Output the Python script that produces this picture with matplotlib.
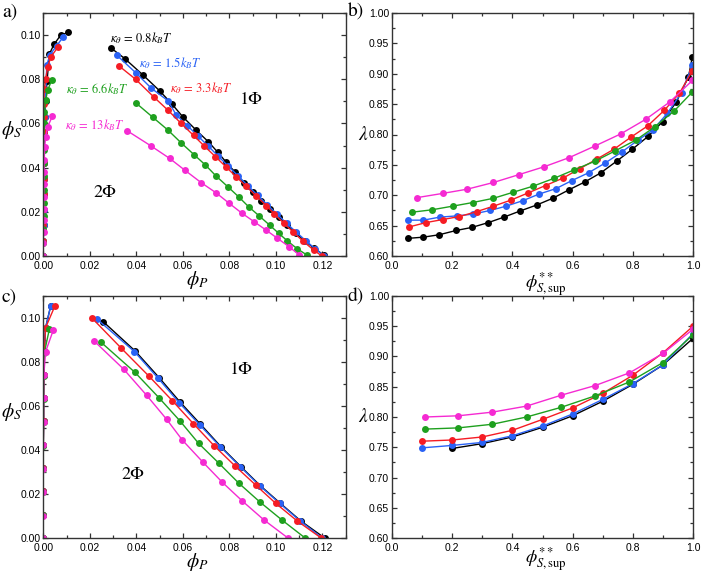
import matplotlib
matplotlib.use("Agg")
import matplotlib.pyplot as plt
from matplotlib.ticker import MultipleLocator

plt.rcParams['font.family'] = ['Liberation Sans', 'DejaVu Sans']
plt.rcParams['mathtext.fontset'] = 'stix'

colors = ['#000000', '#2a62f5', '#f51c24', '#1ea01e', '#f52ad2']
kappa_labels = [r'$\kappa_\theta\,=\,0.8k_BT$', r'$\kappa_\theta\,=\,1.5k_BT$',
                r'$\kappa_\theta\,=\,3.3k_BT$', r'$\kappa_\theta\,=\,6.6k_BT$',
                r'$\kappa_\theta\,=\,13k_BT$']

# ---- panel a : phase diagram (left branch near phi_P = 0, right branch) ----
a_left_x = [
    [0, 0, 0.0001, 0.0001, 0.0001, 0.0002, 0.0002, 0.0003, 0.0004, 0.0006, 0.0010, 0.0016, 0.0026, 0.0046, 0.0075, 0.0107],
    [0, 0, 0.0001, 0.0001, 0.0001, 0.0002, 0.0002, 0.0003, 0.0004, 0.0006, 0.0009, 0.0015, 0.0029, 0.0057, 0.0086],
    [0, 0, 0, 0, 0.0001, 0.0001, 0.0001, 0.0001, 0.0002, 0.0002, 0.0003, 0.0004, 0.0010, 0.0019, 0.0033, 0.0064],
    [0, 0, 0, 0.0001, 0.0001, 0.0001, 0.0001, 0.0002, 0.0002, 0.0003, 0.0003, 0.0004, 0.0010, 0.0019, 0.0036],
    [0, 0, 0.0001, 0.0001, 0.0001, 0.0002, 0.0002, 0.0003, 0.0004, 0.0006, 0.0010, 0.0019, 0.0039],
]
a_left_y = [
    [0, 0.007, 0.014, 0.021, 0.028, 0.035, 0.042, 0.049, 0.056, 0.063, 0.070, 0.079, 0.0914, 0.0958, 0.1000, 0.1012],
    [0, 0.007, 0.014, 0.021, 0.028, 0.035, 0.042, 0.049, 0.056, 0.063, 0.070, 0.0865, 0.0912, 0.0951, 0.0992],
    [0, 0.007, 0.014, 0.021, 0.028, 0.035, 0.042, 0.049, 0.056, 0.063, 0.069, 0.0754, 0.0800, 0.0857, 0.0902, 0.0947],
    [0, 0.006, 0.012, 0.018, 0.024, 0.030, 0.036, 0.042, 0.048, 0.054, 0.060, 0.0652, 0.0705, 0.0751, 0.0796],
    [0, 0.0057, 0.0110, 0.0163, 0.0213, 0.0268, 0.0324, 0.0379, 0.0434, 0.0492, 0.0540, 0.0585, 0.0633],
]
a_right_x = [
    [0.0293, 0.0350, 0.0429, 0.0500, 0.0553, 0.0600, 0.0657, 0.0710, 0.0750, 0.0787, 0.0826, 0.0865, 0.0900, 0.0938, 0.0975, 0.1015, 0.1050, 0.1086, 0.1125, 0.1165, 0.1205],
    [0.0315, 0.0397, 0.0465, 0.0536, 0.0572, 0.0620, 0.0665, 0.0710, 0.0752, 0.0795, 0.0838, 0.0880, 0.0922, 0.0963, 0.1005, 0.1046, 0.1088, 0.1130, 0.1170, 0.1208],
    [0.0326, 0.0397, 0.0475, 0.0536, 0.0593, 0.0646, 0.0690, 0.0740, 0.0787, 0.0830, 0.0873, 0.0915, 0.0959, 0.0994, 0.1033, 0.1073, 0.1116, 0.1165, 0.1198],
    [0.0397, 0.0472, 0.0536, 0.0593, 0.0650, 0.0697, 0.0743, 0.0793, 0.0840, 0.0883, 0.0929, 0.0973, 0.1012, 0.1050, 0.1093, 0.1136],
    [0.0362, 0.0462, 0.0543, 0.0608, 0.0679, 0.0743, 0.0800, 0.0855, 0.0907, 0.0957, 0.1007, 0.1057, 0.1100],
]
a_right_y = [
    [0.0940, 0.0894, 0.0819, 0.0748, 0.0688, 0.0630, 0.0570, 0.0517, 0.0470, 0.0424, 0.0378, 0.0329, 0.0289, 0.0249, 0.0212, 0.0175, 0.0140, 0.0103, 0.0068, 0.0035, 0.0005],
    [0.0910, 0.0830, 0.0759, 0.0703, 0.0638, 0.0590, 0.0543, 0.0497, 0.0452, 0.0407, 0.0362, 0.0318, 0.0274, 0.0232, 0.0190, 0.0148, 0.0108, 0.0068, 0.0032, 0.0000],
    [0.0860, 0.0800, 0.0720, 0.0660, 0.0600, 0.0546, 0.0500, 0.0450, 0.0402, 0.0358, 0.0315, 0.0272, 0.0228, 0.0190, 0.0150, 0.0110, 0.0068, 0.0025, 0.0000],
    [0.0694, 0.0627, 0.0570, 0.0512, 0.0457, 0.0412, 0.0362, 0.0314, 0.0268, 0.0223, 0.0181, 0.0140, 0.0103, 0.0068, 0.0032, 0.0003],
    [0.0566, 0.0499, 0.0442, 0.0389, 0.0332, 0.0286, 0.0238, 0.0193, 0.0155, 0.0118, 0.0080, 0.0042, 0.0005],
]

# ---- panel b : lambda vs phi**_S,sup ----
b_x = [
    [0.052, 0.104, 0.157, 0.213, 0.265, 0.320, 0.372, 0.425, 0.481, 0.534, 0.588, 0.641, 0.694, 0.746, 0.799, 0.851, 0.899, 0.945, 0.985, 0.998],
    [0.052, 0.104, 0.159, 0.215, 0.270, 0.326, 0.379, 0.434, 0.489, 0.545, 0.597, 0.653, 0.708, 0.763, 0.818, 0.866, 0.915, 0.962, 0.998],
    [0.058, 0.113, 0.168, 0.224, 0.281, 0.337, 0.395, 0.453, 0.510, 0.567, 0.625, 0.682, 0.738, 0.795, 0.849, 0.905, 0.955, 0.998],
    [0.065, 0.132, 0.201, 0.268, 0.337, 0.403, 0.469, 0.539, 0.606, 0.674, 0.741, 0.811, 0.874, 0.938, 0.998],
    [0.082, 0.168, 0.250, 0.337, 0.422, 0.506, 0.589, 0.674, 0.760, 0.843, 0.924, 0.998],
]
b_y = [
    [0.629, 0.631, 0.635, 0.642, 0.647, 0.655, 0.664, 0.674, 0.684, 0.695, 0.709, 0.722, 0.737, 0.756, 0.776, 0.797, 0.821, 0.854, 0.895, 0.928],
    [0.659, 0.659, 0.664, 0.666, 0.669, 0.675, 0.682, 0.691, 0.702, 0.711, 0.724, 0.737, 0.753, 0.771, 0.791, 0.807, 0.835, 0.869, 0.914],
    [0.648, 0.655, 0.660, 0.665, 0.673, 0.682, 0.692, 0.704, 0.716, 0.728, 0.744, 0.760, 0.776, 0.796, 0.814, 0.840, 0.868, 0.905],
    [0.672, 0.676, 0.682, 0.688, 0.695, 0.705, 0.715, 0.728, 0.742, 0.756, 0.773, 0.791, 0.813, 0.839, 0.870],
    [0.696, 0.703, 0.710, 0.721, 0.734, 0.747, 0.762, 0.781, 0.801, 0.825, 0.854, 0.889],
]

# ---- panel c : second phase diagram ----
c_left_x = [
    [0, 0, 0, 0, 0, 0.0001, 0.0001, 0.0002, 0.0004, 0.0010, 0.0032],
    [0, 0, 0, 0, 0, 0.0001, 0.0001, 0.0002, 0.0004, 0.0010, 0.0032],
    [0, 0, 0, 0, 0, 0.0001, 0.0001, 0.0002, 0.0004, 0.0010, 0.0050],
    [0, 0, 0, 0, 0, 0.0001, 0.0001, 0.0002, 0.0004, 0.0026],
    [0, 0, 0, 0, 0, 0.0001, 0.0001, 0.0002, 0.0010, 0.0043],
]
c_left_y = [
    [0, 0.0106, 0.0212, 0.0318, 0.0424, 0.0530, 0.0636, 0.0742, 0.0848, 0.0956, 0.1056],
    [0, 0.0106, 0.0212, 0.0318, 0.0424, 0.0530, 0.0636, 0.0742, 0.0848, 0.0956, 0.1056],
    [0, 0.0106, 0.0212, 0.0318, 0.0424, 0.0530, 0.0636, 0.0742, 0.0848, 0.0956, 0.1055],
    [0, 0.0105, 0.0210, 0.0315, 0.0420, 0.0525, 0.0630, 0.0735, 0.0840, 0.0949],
    [0, 0.0101, 0.0208, 0.0314, 0.0423, 0.0529, 0.0635, 0.0740, 0.0847, 0.0945],
]
c_right_x = [
    [0.0258, 0.0395, 0.0498, 0.0588, 0.0676, 0.0764, 0.0850, 0.0933, 0.1019, 0.1108, 0.1210],
    [0.0232, 0.0392, 0.0494, 0.0584, 0.0672, 0.0761, 0.0847, 0.0930, 0.1016, 0.1105, 0.1200],
    [0.0210, 0.0336, 0.0454, 0.0555, 0.0645, 0.0734, 0.0823, 0.0913, 0.0999, 0.1090, 0.1195],
    [0.0248, 0.0394, 0.0497, 0.0587, 0.0668, 0.0755, 0.0841, 0.0930, 0.1026, 0.1126],
    [0.0219, 0.0346, 0.0444, 0.0530, 0.0598, 0.0687, 0.0770, 0.0856, 0.0949, 0.1052],
]
c_right_y = [
    [0.0983, 0.0850, 0.0729, 0.0618, 0.0517, 0.0415, 0.0324, 0.0238, 0.0158, 0.0077, 0.0],
    [0.0994, 0.0847, 0.0726, 0.0615, 0.0515, 0.0415, 0.0324, 0.0238, 0.0158, 0.0077, 0.0],
    [0.0999, 0.0862, 0.0736, 0.0624, 0.0520, 0.0420, 0.0329, 0.0241, 0.0158, 0.0079, 0.0],
    [0.0890, 0.0753, 0.0638, 0.0533, 0.0430, 0.0340, 0.0249, 0.0165, 0.0082, 0.0],
    [0.0895, 0.0767, 0.0649, 0.0540, 0.0445, 0.0344, 0.0253, 0.0168, 0.0082, 0.0],
]

# ---- panel d ----
d_x = [
    [0.2, 0.3, 0.4, 0.5, 0.6, 0.7, 0.8, 0.9, 1.0],
    [0.1, 0.2, 0.3, 0.4, 0.5, 0.6, 0.7, 0.8, 0.9, 1.0],
    [0.1, 0.2, 0.3, 0.4, 0.5, 0.6, 0.7, 0.8, 0.9, 1.0],
    [0.11, 0.22, 0.333, 0.447, 0.562, 0.675, 0.789, 0.90, 1.0],
    [0.11, 0.22, 0.333, 0.447, 0.562, 0.675, 0.789, 0.90, 1.0],
]
d_y = [
    [0.748, 0.756, 0.767, 0.783, 0.802, 0.826, 0.854, 0.886, 0.930],
    [0.749, 0.753, 0.758, 0.769, 0.785, 0.805, 0.829, 0.855, 0.886, 0.938],
    [0.760, 0.762, 0.767, 0.778, 0.796, 0.815, 0.839, 0.869, 0.906, 0.950],
    [0.780, 0.782, 0.788, 0.800, 0.816, 0.835, 0.858, 0.890, 0.936],
    [0.800, 0.802, 0.808, 0.818, 0.836, 0.852, 0.873, 0.905, 0.945],
]

W, H = 702, 575
fig = plt.figure(figsize=(W / 100, H / 100), dpi=100)


def box(l, t, r, b):
    return [l / W, 1 - b / H, (r - l) / W, (b - t) / H]


ax_a = fig.add_axes(box(43.3, 13, 345.6, 256))
ax_b = fig.add_axes(box(392, 13, 693, 256))
ax_c = fig.add_axes(box(43.3, 296, 345.6, 538))
ax_d = fig.add_axes(box(392, 296, 693, 538))

line_kw = dict(marker='o', ms=5, lw=1.0, mew=0)


def style(ax, xmaj, xmin, ymaj, ymin, xlim, ylim, fmt_x, fmt_y):
    ax.set_xlim(*xlim)
    ax.set_ylim(*ylim)
    ax.xaxis.set_major_locator(MultipleLocator(xmaj))
    ax.xaxis.set_minor_locator(MultipleLocator(xmin))
    ax.yaxis.set_major_locator(MultipleLocator(ymaj))
    ax.yaxis.set_minor_locator(MultipleLocator(ymin))
    ax.xaxis.set_major_formatter(plt.FormatStrFormatter(fmt_x))
    ax.yaxis.set_major_formatter(plt.FormatStrFormatter(fmt_y))
    ax.tick_params(which='both', direction='in', top=True, right=True,
                   labelsize=7.5, pad=2, color='#333333', width=0.9)
    ax.tick_params(axis='x', which='both', pad=3.5)
    ax.tick_params(which='major', length=3.5)
    ax.tick_params(which='minor', length=2)
    for s in ax.spines.values():
        s.set_color('#333333')
        s.set_linewidth(1.0)


def phase_panel(ax, lx, ly, rx, ry):
    for i in range(5):
        ax.plot(lx[i], ly[i], color=colors[i], **line_kw)
        ax.plot(rx[i], ry[i], color=colors[i], **line_kw)
    style(ax, 0.02, 0.01, 0.02, 0.01, (0, 0.13), (0, 0.11), '%.2f', '%.2f')
    ax.text(-0.105, 0.52, r'$\phi_S$', transform=ax.transAxes, fontsize=14,
            ha='center', va='center')
    ax.text(0.51, -0.1, r'$\phi_P$', transform=ax.transAxes, fontsize=14,
            ha='center', va='center')


def lam_panel(ax, xs, ys, ylab):
    for i in range(5):
        ax.plot(xs[i], ys[i], color=colors[i], **line_kw)
    style(ax, 0.2, 0.1, 0.05, 0.025, (0, 1.0), (0.6, 1.0), '%.1f', '%.2f')
    ax.text(-0.095, 0.50, r'$\lambda$', transform=ax.transAxes, fontsize=14,
            ha='center', va='center')
    ax.text(0.51, ylab, r'$\phi^{**}_{S,\mathrm{sup}}$', transform=ax.transAxes,
            fontsize=13, ha='center', va='top')


phase_panel(ax_a, a_left_x, a_left_y, a_right_x, a_right_y)
lam_panel(ax_b, b_x, b_y, -0.062)
phase_panel(ax_c, c_left_x, c_left_y, c_right_x, c_right_y)
lam_panel(ax_d, d_x, d_y, -0.035)

# annotations in panel a
label_pos = [(0.0286, 0.0986), (0.0410, 0.0873), (0.0544, 0.0760),
             (0.0096, 0.0756), (0.0093, 0.0593)]
for i, (px, py) in enumerate(label_pos):
    ax_a.text(px, py, kappa_labels[i], color=colors[i], fontsize=9,
              ha='left', va='center')

serif = ['STIXGeneral', 'DejaVu Serif']
ax_a.text(0.0896, 0.0706, '1Φ', fontsize=13, family=serif, ha='center', va='center')
ax_a.text(0.0265, 0.0285, '2Φ', fontsize=13, family=serif, ha='center', va='center')
ax_c.text(0.0853, 0.0764, '1Φ', fontsize=13, family=serif, ha='center', va='center')
ax_c.text(0.0385, 0.0286, '2Φ', fontsize=13, family=serif, ha='center', va='center')

for lab, x, y in [('a)', 10, 12), ('b)', 356, 12), ('c)', 9, 297), ('d)', 356, 297)]:
    fig.text(x / W, 1 - y / H, lab, fontsize=14, family=serif, ha='center', va='center')

fig.savefig('out.png', dpi=100)
